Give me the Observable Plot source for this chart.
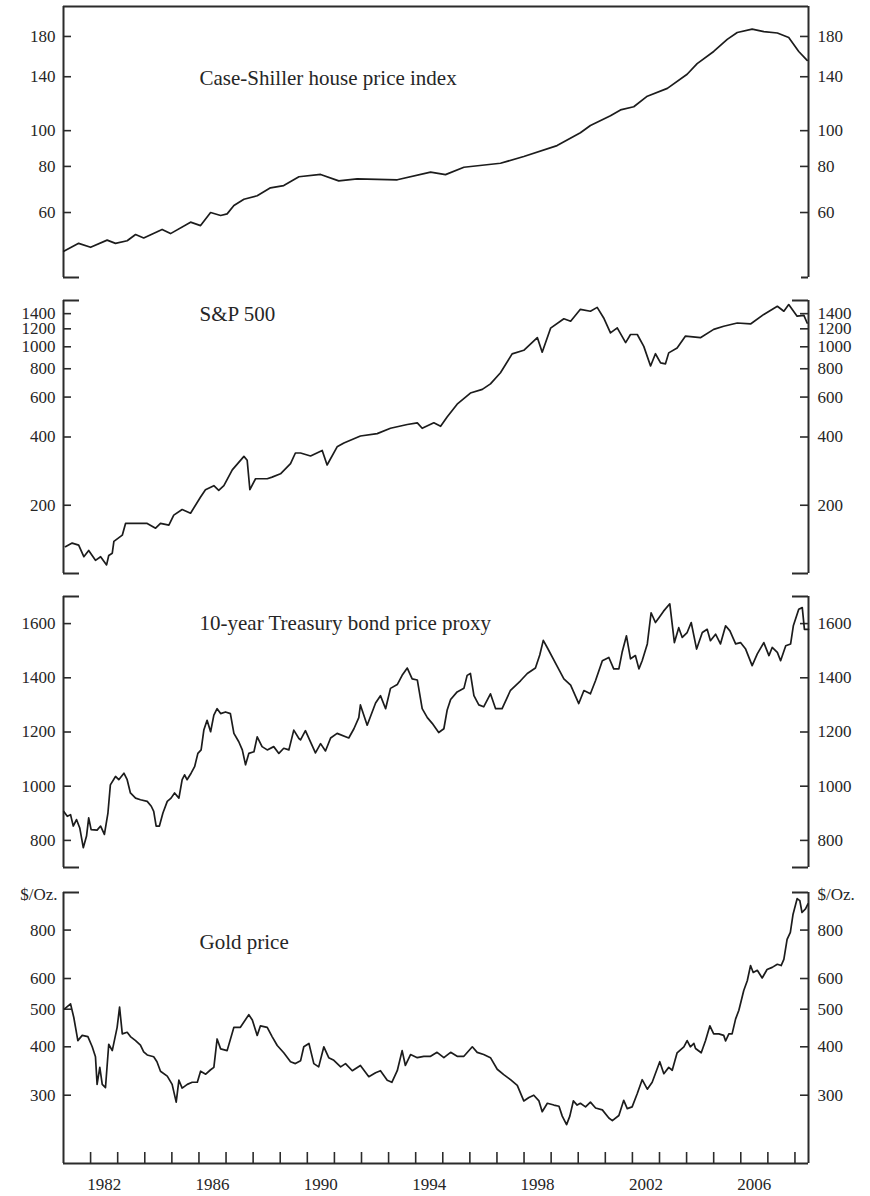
<!DOCTYPE html>
<html><head><meta charset="utf-8">
<script src="https://cdn.jsdelivr.net/npm/d3@7"></script>
<script src="https://cdn.jsdelivr.net/npm/@observablehq/plot@0.6"></script>
<style>
html,body{margin:0;padding:0;background:#fff;}
#chart{width:870px;}
#chart svg{display:block;}
</style></head><body><div id="chart"></div>
<script>
// ---------- DATA ----------
const tickYears = [1982,1983,1984,1985,1986,1987,1988,1989,1990,1991,1992,1993,1994,1995,1996,1997,1998,1999,2000,2001,2002,2003,2004,2005,2006,2007,2008];
const labelYears = [1982,1986,1990,1994,1998,2002,2006];

const csTicks = [60,80,100,140,180];
const spTicks = [200,400,600,800,1000,1200,1400];
const tbTicks = [800,1000,1200,1400,1600];
const gdTicks = [300,400,500,600,800];

const csTitle = "Case-Shiller house price index";
const spTitle = "S&P 500";
const tbTitle = "10-year Treasury bond price proxy";
const gdTitle = "Gold price";
const gdUnit = "$/Oz.";

const csData = [[1981.01,47.1],[1981.56,49.5],[1982.0,48.3],[1982.61,50.5],[1982.92,49.5],[1983.35,50.3],[1983.66,52.3],[1983.96,51.2],[1984.64,54.0],[1984.95,52.6],[1985.69,56.5],[1986.06,55.3],[1986.43,60.0],[1986.8,58.9],[1987.04,59.5],[1987.29,62.7],[1987.66,65.2],[1988.15,66.6],[1988.64,70.0],[1989.13,71.0],[1989.69,75.0],[1990.49,76.1],[1991.16,73.1],[1991.84,74.0],[1992.58,73.8],[1993.32,73.6],[1994.55,77.2],[1995.1,76.0],[1995.78,79.6],[1997.13,81.6],[1997.99,85.1],[1999.22,91.1],[2000.08,98.7],[2000.45,103.3],[2001.19,109.8],[2001.56,113.8],[2002.05,116.1],[2002.55,124.0],[2003.29,130.2],[2004.02,142.2],[2004.39,151.9],[2005.0,163.9],[2005.5,176.7],[2005.87,184.5],[2006.42,188.4],[2006.85,185.6],[2007.35,183.9],[2007.77,178.8],[2008.14,163.9],[2008.45,155.0]];

const spData = [[1981.07,131.3],[1981.32,136.2],[1981.56,133.4],[1981.75,118.6],[1981.93,126.3],[1982.18,114.3],[1982.37,118.6],[1982.59,109.1],[1982.67,120.1],[1982.8,122.9],[1982.86,138.5],[1983.17,147.6],[1983.29,166.3],[1983.6,166.3],[1984.09,166.3],[1984.4,158.4],[1984.58,166.3],[1984.89,163.4],[1985.07,180.9],[1985.38,191.5],[1985.69,184.5],[1986.06,217.5],[1986.24,234.2],[1986.55,244.0],[1986.73,232.7],[1986.92,244.0],[1987.23,286.5],[1987.66,328.5],[1987.78,315.8],[1987.88,234.2],[1988.09,261.8],[1988.52,261.8],[1988.7,266.2],[1989.01,275.2],[1989.38,305],[1989.56,340],[1989.75,340],[1990.12,330],[1990.55,349],[1990.73,301],[1991.1,362],[1991.35,376],[1991.96,404],[1992.58,414],[1993.07,437],[1993.69,454],[1994.06,462],[1994.24,437],[1994.67,462],[1994.92,446],[1995.16,490],[1995.53,558],[1996.02,625],[1996.46,649],[1996.76,686],[1997.13,768],[1997.56,930],[1997.99,965],[1998.49,1098],[1998.67,946],[1998.98,1208],[1999.47,1329],[1999.72,1296],[2000.08,1463],[2000.45,1435],[2000.7,1492],[2000.94,1340],[2001.19,1151],[2001.44,1212],[2001.75,1043],[2001.93,1133],[2002.18,1133],[2002.42,1004],[2002.67,823],[2002.85,932],[2003.04,849],[2003.22,841],[2003.34,940],[2003.65,988],[2003.96,1115],[2004.51,1097],[2005.0,1193],[2005.37,1232],[2005.87,1273],[2006.36,1261],[2006.85,1389],[2007.35,1509],[2007.59,1435],[2007.77,1535],[2008.08,1364],[2008.33,1376],[2008.45,1273]];

const tbData = [[1981.01,907],[1981.14,889],[1981.26,895],[1981.36,853],[1981.48,877],[1981.6,846],[1981.73,773],[1981.85,816],[1981.93,883],[1982.02,840],[1982.24,838],[1982.37,853],[1982.51,822],[1982.64,901],[1982.73,1005],[1982.92,1036],[1983.04,1024],[1983.23,1048],[1983.35,1024],[1983.47,975],[1983.66,956],[1983.84,950],[1984.09,944],[1984.24,926],[1984.33,907],[1984.42,853],[1984.54,853],[1984.67,901],[1984.83,944],[1984.97,956],[1985.1,975],[1985.26,956],[1985.38,1024],[1985.47,1042],[1985.56,1024],[1985.71,1048],[1985.84,1072],[1985.96,1121],[1986.08,1134],[1986.18,1207],[1986.3,1243],[1986.43,1201],[1986.55,1262],[1986.67,1286],[1986.8,1268],[1986.98,1274],[1987.16,1268],[1987.29,1195],[1987.47,1164],[1987.6,1134],[1987.72,1079],[1987.84,1121],[1988.03,1127],[1988.15,1182],[1988.33,1146],[1988.52,1134],[1988.76,1146],[1988.95,1121],[1989.13,1140],[1989.32,1134],[1989.5,1207],[1989.69,1176],[1989.75,1171],[1989.93,1205],[1990.3,1123],[1990.49,1157],[1990.67,1130],[1990.86,1178],[1991.1,1195],[1991.53,1178],[1991.72,1212],[1991.9,1253],[1991.96,1300],[1992.21,1225],[1992.52,1307],[1992.7,1334],[1992.89,1286],[1993.07,1361],[1993.32,1375],[1993.5,1409],[1993.69,1436],[1993.87,1396],[1994.06,1392],[1994.24,1286],[1994.43,1253],[1994.61,1232],[1994.85,1198],[1995.04,1212],[1995.16,1280],[1995.29,1320],[1995.53,1348],[1995.78,1361],[1995.9,1409],[1996.02,1416],[1996.15,1334],[1996.33,1300],[1996.51,1293],[1996.76,1341],[1996.95,1286],[1997.19,1286],[1997.5,1354],[1997.87,1389],[1998.12,1416],[1998.42,1436],[1998.58,1484],[1998.71,1538],[1998.86,1511],[1999.22,1443],[1999.47,1396],[1999.72,1373],[2000.02,1305],[2000.21,1353],[2000.45,1341],[2000.64,1390],[2000.89,1463],[2001.13,1475],[2001.31,1433],[2001.5,1433],[2001.62,1494],[2001.78,1555],[2001.93,1470],[2002.11,1482],[2002.24,1433],[2002.36,1463],[2002.55,1525],[2002.69,1640],[2002.85,1604],[2002.98,1622],[2003.15,1646],[2003.38,1673],[2003.55,1530],[2003.71,1585],[2003.84,1549],[2004.02,1567],[2004.17,1604],[2004.37,1506],[2004.58,1567],[2004.76,1579],[2004.88,1537],[2005.07,1561],[2005.25,1525],[2005.44,1592],[2005.6,1573],[2005.81,1525],[2005.99,1530],[2006.18,1506],[2006.42,1445],[2006.61,1488],[2006.85,1530],[2007.04,1482],[2007.16,1512],[2007.35,1494],[2007.47,1463],[2007.66,1518],[2007.84,1525],[2007.94,1592],[2008.14,1653],[2008.27,1659],[2008.35,1579],[2008.5,1579]];

const gdData = [[1981.04,501],[1981.26,516],[1981.38,476],[1981.53,415],[1981.69,428],[1981.9,425],[1982.06,400],[1982.18,377],[1982.24,320],[1982.34,354],[1982.43,320],[1982.55,314],[1982.67,406],[1982.8,391],[1982.98,449],[1983.07,506],[1983.17,432],[1983.35,436],[1983.47,425],[1983.66,415],[1983.84,404],[1983.96,388],[1984.09,381],[1984.33,377],[1984.45,366],[1984.58,346],[1984.83,336],[1985.01,320],[1985.16,288],[1985.26,328],[1985.38,313],[1985.57,320],[1985.75,324],[1985.94,324],[1986.06,346],[1986.25,340],[1986.43,349],[1986.55,354],[1986.67,419],[1986.8,395],[1987.04,391],[1987.29,449],[1987.53,449],[1987.84,484],[1987.97,469],[1988.15,428],[1988.27,453],[1988.52,449],[1988.7,425],[1988.89,403],[1989.13,386],[1989.38,366],[1989.56,362],[1989.75,368],[1989.87,400],[1990.06,408],[1990.24,362],[1990.42,355],[1990.61,400],[1990.79,375],[1990.98,369],[1991.23,355],[1991.41,362],[1991.66,347],[1991.96,358],[1992.27,335],[1992.52,343],[1992.7,347],[1992.95,328],[1993.12,324],[1993.32,347],[1993.5,391],[1993.62,358],[1993.81,382],[1994.06,375],[1994.3,378],[1994.55,378],[1994.79,387],[1995.04,375],[1995.29,387],[1995.53,378],[1995.78,378],[1996.09,400],[1996.27,387],[1996.51,382],[1996.76,375],[1997.01,350],[1997.25,339],[1997.5,329],[1997.75,318],[1997.99,290],[1998.18,296],[1998.36,300],[1998.55,290],[1998.67,272],[1998.86,286],[1999.1,283],[1999.29,281],[1999.41,265],[1999.57,252],[1999.69,265],[1999.82,290],[1999.96,283],[2000.08,286],[2000.27,280],[2000.45,288],[2000.64,278],[2000.89,275],[2001.13,262],[2001.26,258],[2001.5,266],[2001.68,291],[2001.81,277],[2001.99,280],[2002.18,303],[2002.36,329],[2002.55,311],[2002.73,324],[2003.01,366],[2003.16,341],[2003.34,354],[2003.47,348],[2003.65,386],[2003.9,400],[2004.02,415],[2004.14,400],[2004.27,408],[2004.33,396],[2004.54,386],[2004.7,415],[2004.86,453],[2005.0,432],[2005.19,432],[2005.37,428],[2005.44,414],[2005.56,432],[2005.68,432],[2005.81,472],[2005.93,497],[2006.11,559],[2006.24,592],[2006.36,648],[2006.46,622],[2006.61,630],[2006.79,602],[2006.97,633],[2007.16,641],[2007.35,653],[2007.49,648],[2007.59,672],[2007.71,757],[2007.83,789],[2007.93,879],[2008.08,964],[2008.18,953],[2008.26,888],[2008.39,907],[2008.48,935]];

// ---------- LAYOUT ----------
const W = 870, ML = 63, MR = 62, PW = W - ML - MR;
const xDomain = [1981, 2008.5];
const FONT = "'Liberation Serif', 'Times New Roman', serif";
const AX = "#2b2b2b";
const INK = "#1c1c1c";

function panel(o) {
  const [y0, y1] = o.yDomain;
  const cap = (v, full, lenL, lenR) => full
    ? [Plot.ruleY([v], {stroke: AX, strokeWidth: 2})]
    : [Plot.ruleY([v], {stroke: AX, strokeWidth: 2, insetRight: PW - lenL}),
       Plot.ruleY([v], {stroke: AX, strokeWidth: 2, insetLeft: PW - lenR})];
  const marks = [
    Plot.ruleX(xDomain, {stroke: AX, strokeWidth: 2}),
    cap(y1, o.topFull, 16, 16),
    cap(y0, o.bottomFull, 16, o.brCap || 16),
    Plot.tickY(o.ticks, {y: d => d, stroke: AX, strokeWidth: 1.6, insetRight: PW - 8}),
    Plot.tickY(o.ticks, {y: d => d, stroke: AX, strokeWidth: 1.6, insetLeft: PW - 8}),
    Plot.text(o.ticks, {y: d => d, text: d => String(d), frameAnchor: "left", textAnchor: "end", dx: -8, lineAnchor: "middle"}),
    Plot.text(o.ticks, {y: d => d, text: d => String(d), frameAnchor: "right", textAnchor: "start", dx: 9, lineAnchor: "middle"}),
    Plot.line(o.data, {x: d => d[0], y: d => d[1], stroke: INK, strokeWidth: 1.7, strokeLinejoin: "round"}),
    Plot.text([o.title], {text: d => d, frameAnchor: "top-left", dx: 136, dy: o.titleDy, textAnchor: "start", lineAnchor: "middle", fontSize: 21})
  ];
  if (o.unit) {
    marks.push(Plot.text([o.unit], {text: d => d, frameAnchor: "top-left", dx: -6, dy: 2, textAnchor: "end", lineAnchor: "middle"}));
    marks.push(Plot.text([o.unit], {text: d => d, frameAnchor: "top-right", dx: 9, dy: 2, textAnchor: "start", lineAnchor: "middle"}));
  }
  if (o.xAxis) {
    marks.push(Plot.tickX(tickYears, {x: d => d, stroke: AX, strokeWidth: 1.6, insetTop: (o.height - o.mt - o.mb) - 11}));
    marks.push(Plot.text(labelYears, {x: d => d + 0.5, text: d => String(d), frameAnchor: "bottom", dy: 21, lineAnchor: "middle"}));
  }
  return Plot.plot({
    width: W, height: o.height,
    marginLeft: ML, marginRight: MR, marginTop: o.mt, marginBottom: o.mb,
    x: {domain: xDomain, axis: null},
    y: {type: o.yType, domain: o.yDomain, axis: null},
    style: {fontFamily: FONT, fontSize: "17px", color: "#262626", background: "white", overflow: "visible"},
    marks
  });
}

const root = document.getElementById("chart");
root.append(panel({data: csData, yType: "log", yDomain: [40, 217], ticks: csTicks, title: csTitle, titleDy: 72, height: 290, mt: 6, mb: 13, topFull: true, brCap: 7}));
root.append(panel({data: spData, yType: "log", yDomain: [100, 1600], ticks: spTicks, title: spTitle, titleDy: 14, height: 294, mt: 10, mb: 11}));
root.append(panel({data: tbData, yType: "linear", yDomain: [700, 1700], ticks: tbTicks, title: tbTitle, titleDy: 27, height: 296, mt: 12, mb: 13}));
root.append(panel({data: gdData, yType: "log", yDomain: [200, 1000], ticks: gdTicks, title: gdTitle, titleDy: 50, height: 316, mt: 12, mb: 33, bottomFull: true, unit: gdUnit, xAxis: true}));
</script></body></html>
